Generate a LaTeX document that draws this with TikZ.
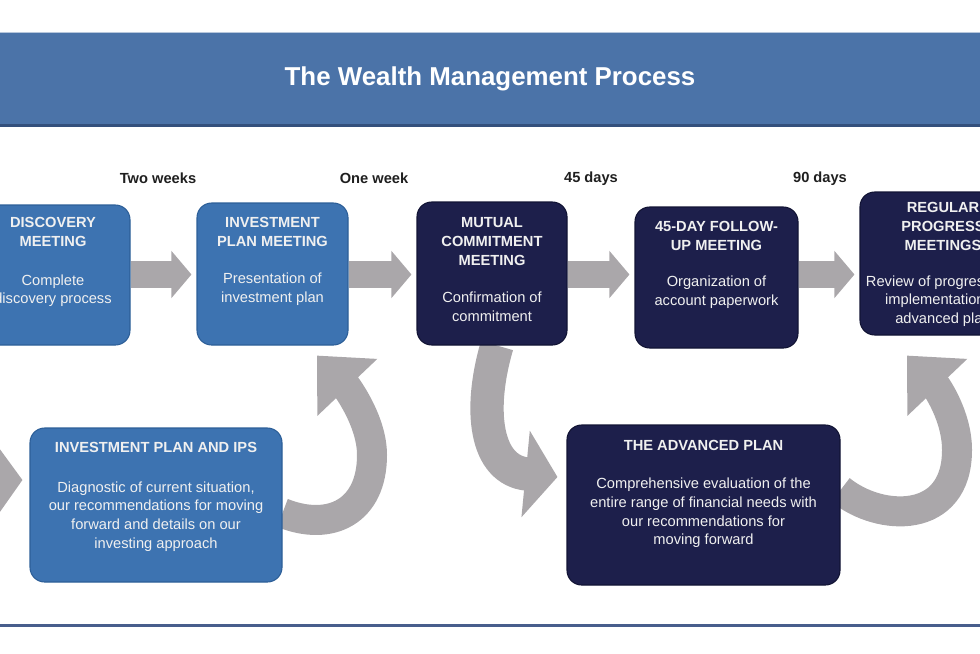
\documentclass[tikz,border=0pt]{standalone}
\usepackage{fontspec}
\setmainfont{Liberation Sans}
\usetikzlibrary{arrows.meta,calc}
\pgfdeclarelayer{background}
\pgfsetlayers{background,main}

\definecolor{bandblue}{RGB}{75,115,168}
\definecolor{banddark}{RGB}{52,80,124}
\definecolor{lightbox}{RGB}{61,115,177}
\definecolor{lightedge}{RGB}{45,95,152}
\definecolor{darkbox}{RGB}{29,31,75}
\definecolor{darkedge}{RGB}{18,20,52}
\definecolor{flowgray}{RGB}{170,167,170}
\definecolor{rulecol}{RGB}{72,94,140}

\begin{document}
\begin{tikzpicture}[x=0.75pt,y=-0.75pt,
  card/.style={rounded corners=11pt, inner sep=0pt, line width=0.8pt},
  lightcard/.style={card, fill=lightbox, draw=lightedge},
  darkcard/.style={card, fill=darkbox, draw=darkedge},
  cardtext/.style={anchor=north, inner sep=0pt, align=center, text=white!94!black,
    font=\fontsize{11pt}{14pt}\selectfont},
  gap/.style={inner sep=0pt, text=black!88, font=\bfseries\fontsize{11pt}{14pt}\selectfont},
  flow/.style={draw=flowgray, line width=20.25pt,
    -{Triangle[width=34.5pt,length=15pt]}, shorten >=3.75pt},
  sweep/.style={draw=flowgray, line width=22.5pt,
    -{Triangle[width=60pt,length=33pt]}},
]
\useasboundingbox (0,0) rectangle (980,653);
\clip (0,0) rectangle (980,653);

% header band with the title
\node[fill=bandblue, inner sep=0pt, minimum width=738pt, minimum height=68.25pt,
  text=white, font=\bfseries\fontsize{19.4pt}{23pt}\selectfont] (band) at (490,78.5)
  {The Wealth Management Process};
\fill[banddark] (band.south west) rectangle ($(band.south east)+(0,3)$);
\draw[bandblue!40!white, line width=0.6pt] (band.north west) -- (band.north east);

% bottom rule
\draw[rulecol, line width=2.25pt] (-2,625) -- (982,625);

% top row of meetings
\node[lightcard, minimum width=115.5pt,  minimum height=105pt]    (disc) at (53,275) {};
\node[lightcard, minimum width=113.25pt, minimum height=106.5pt]  (ipm)  at (272.5,274) {};
\node[darkcard,  minimum width=112.5pt,  minimum height=107.25pt] (mut)  at (492,273.5) {};
\node[darkcard,  minimum width=122.25pt, minimum height=105.75pt] (fol)  at (716.5,277.5) {};
\node[darkcard,  minimum width=124.5pt,  minimum height=107.25pt] (reg)  at (943,263.5) {};

% bottom row of plans
\node[lightcard, minimum width=189pt,    minimum height=115.5pt]  (ips)  at (156,505) {};
\node[darkcard,  minimum width=204.75pt, minimum height=120pt]    (adv)  at (703.5,505) {};

% card texts
\node[cardtext] (disc-t) at ($(disc.north)+(0,13)$)
  {\textbf{DISCOVERY}\\\textbf{MEETING}\\[15pt]Complete\\discovery process};
\node[cardtext] (ipm-t) at ($(ipm.north)+(0,15)$)
  {\textbf{INVESTMENT}\\\textbf{PLAN MEETING}\\[14pt]Presentation of\\investment plan};
\node[cardtext] (mut-t) at ($(mut.north)+(0,16)$)
  {\textbf{MUTUAL}\\\textbf{COMMITMENT}\\\textbf{MEETING}\\[14pt]Confirmation of\\commitment};
\node[cardtext] (fol-t) at ($(fol.north)+(0,15)$)
  {\textbf{45-DAY FOLLOW-}\\\textbf{UP MEETING}\\[13pt]Organization of\\account paperwork};
\node[cardtext] (reg-t) at ($(reg.north)+(0,11)$)
  {\textbf{REGULAR}\\\textbf{PROGRESS}\\\textbf{MEETINGS}\\[13pt]Review of progress and\\implementation of\\advanced plan};
\node[cardtext] (ips-t) at ($(ips.north)+(0,15)$)
  {\textbf{INVESTMENT PLAN AND IPS}\\[15.5pt]Diagnostic of current situation,\\our recommendations for moving\\forward and details on our\\investing approach};
\node[cardtext] (adv-t) at ($(adv.north)+(0,16)$)
  {\textbf{THE ADVANCED PLAN}\\[14.5pt]Comprehensive evaluation of the\\entire range of financial needs with\\our recommendations for\\moving forward};

% intervals between meetings
\node[gap] (w2)  at (158,178) {Two weeks};
\node[gap] (w1)  at (374,178) {One week};
\node[gap] (d45) at (591,179) {45 days};
\node[gap] (d90) at (820,179) {90 days};

% connectors, kept behind the cards
\coordinate (row) at (0,274.5);
\coordinate (offl) at (-90,481);
\begin{pgfonlayer}{background}
  \clip (0,0) rectangle (980,653);
  \draw[flow] (disc.east |- row) -- (ipm.west |- row);
  \draw[flow] (ipm.east |- row)  -- (mut.west |- row);
  \draw[flow] (mut.east |- row)  -- (fol.west |- row);
  \draw[flow] (fol.east |- row)  -- (reg.west |- row);

  \draw[sweep, -{Triangle[width=82pt,length=30pt]}] (offl) -- ($(ips.west)+(-7,-25)$);
  \draw[sweep] ($(ips.east)+(0,8)$) .. controls (330,532) and (372,512) .. (372,455)
    .. controls (372,420) and (345,385) .. ($(ipm.south)+(44.5,10)$);
  \draw[sweep, line width=25pt, -{Triangle[width=64pt,length=24pt]}]
    ($(mut.south)+(5,0)$) .. controls (478,410) and (485,470) .. ($(adv.west)+(-9,-28)$);
  \draw[sweep] ($(adv.east)+(0,-15)$) .. controls (880,522) and (957,525) .. (957,450)
    .. controls (957,415) and (935,385) .. ($(reg.south)+(-36,20)$);
\end{pgfonlayer}
\end{tikzpicture}
\end{document}
